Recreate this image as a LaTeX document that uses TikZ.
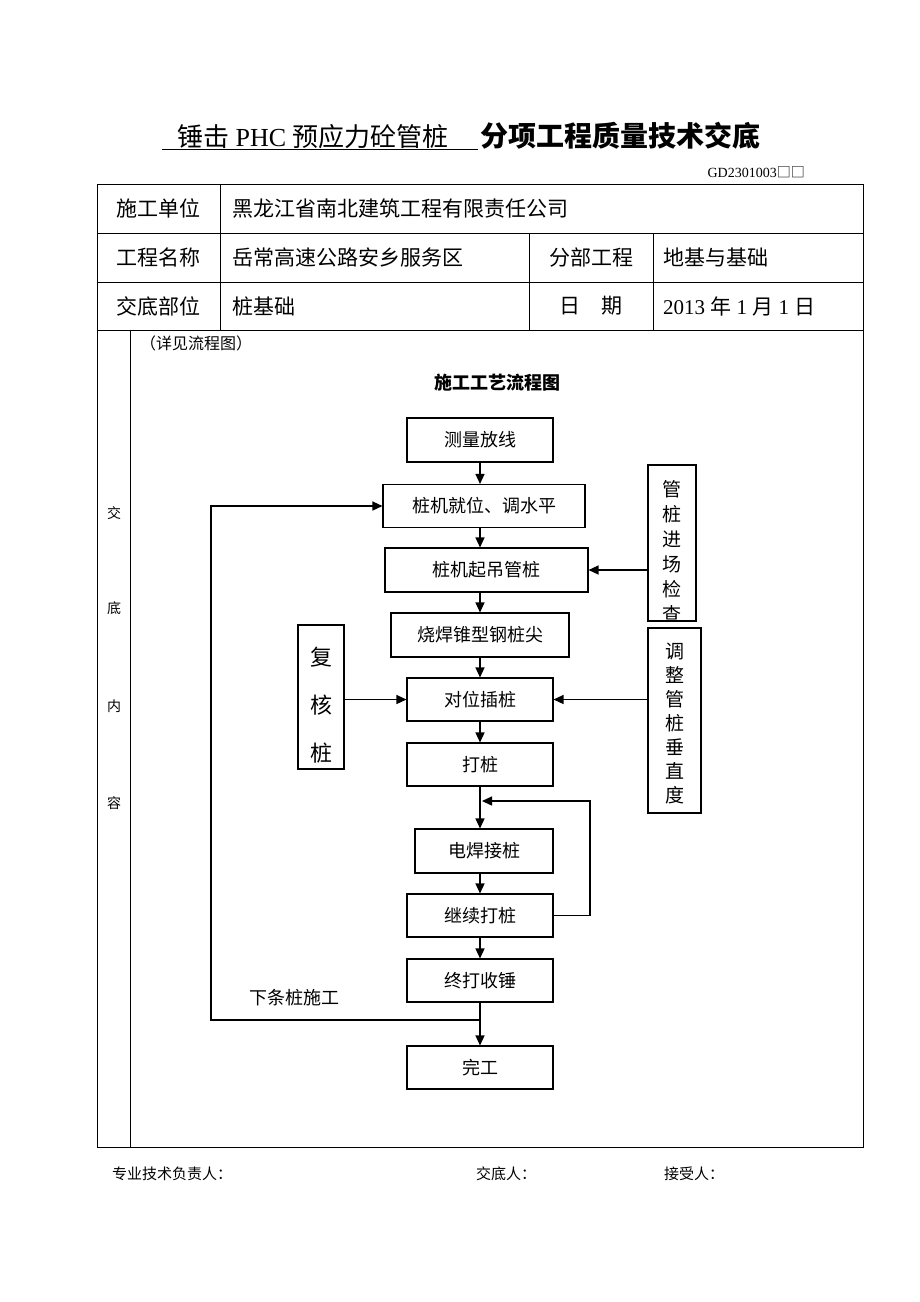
\documentclass[tikz,border=0pt]{standalone}
\usepackage{fontspec}
\setmainfont{Liberation Serif}
\newfontfamily\cjk{Noto Sans CJK SC}
\usetikzlibrary{arrows.meta}
\newcommand\setfs[1]{\fontsize{#1}{#1}\selectfont}
\begin{document}
\begin{tikzpicture}[x=1pt,y=-1pt,
  box/.style={draw,line width=1.1pt,minimum width=146pt,minimum height=44pt,inner sep=0pt,font=\cjk\setfs{18}},
  sidebox/.style={draw,line width=1.1pt,inner sep=0pt},
  vchar/.style={inner sep=0pt,font=\cjk\setfs{19}},
  arr/.style={-{Triangle[length=10pt,width=9pt]},line width=1.4pt},
  tl/.style={line width=1pt},
  cell/.style={inner sep=0pt,font=\cjk\setfs{21}},
  small/.style={inner sep=0pt,font=\cjk\setfs{15}}]
\fill[white] (0,0) rectangle (920,1302);
\useasboundingbox (0,0) rectangle (920,1302);

% title
\node[inner sep=0pt,anchor=west,font=\setfs{26}] (t1) at (177,137) {{\cjk 锤击} PHC {\cjk 预应力砼管桩}};
\coordinate (u1) at (162,149);
\coordinate (u2) at (478,149);
\draw[line width=1pt] (u1) -- (u2);
\node[anchor=west,inner sep=0pt,font=\cjk\bfseries\setfs{28}] (t2) at (480,136) {分项工程质量技术交底};
\node[anchor=east,inner sep=0pt,font=\setfs{14}] (gd) at (805,172) {GD2301003{\cjk □□}};

% table
\draw[tl] (97,184) rectangle (863,1147);
\draw[tl] (97,233) -- (863,233);
\draw[tl] (97,282) -- (863,282);
\draw[tl] (97,330) -- (863,330);
\draw[tl] (220,184) -- (220,330);
\draw[tl] (529,233) -- (529,330);
\draw[tl] (653,233) -- (653,330);
\draw[tl] (130,330) -- (130,1147);

\node[cell] (c11) at (158.5,208.5) {施工单位};
\node[cell,anchor=west] (c12) at (232,208.5) {黑龙江省南北建筑工程有限责任公司};
\node[cell] (c21) at (158.5,257.5) {工程名称};
\node[cell,anchor=west] (c22) at (232,257.5) {岳常高速公路安乡服务区};
\node[cell] (c23) at (591,257.5) {分部工程};
\node[cell,anchor=west] (c24) at (663,257.5) {地基与基础};
\node[cell] (c31) at (158.5,306) {交底部位};
\node[cell,anchor=west] (c32) at (232,306) {桩基础};
\node[cell] (c33) at (591,306) {日\hspace{21pt}期};
\node[cell,anchor=west] (c34) at (663,306) {\rmfamily 2013 {\cjk 年} 1 {\cjk 月} 1 {\cjk 日}};

\node[small,anchor=west,font=\cjk\setfs{16}] (see) at (140,343) {（详见流程图）};
\node[small,font=\cjk\setfs{14}] (v1) at (114,513) {交};
\node[small,font=\cjk\setfs{14}] (v2) at (114,608) {底};
\node[small,font=\cjk\setfs{14}] (v3) at (114,706) {内};
\node[small,font=\cjk\setfs{14}] (v4) at (114,803) {容};

\node[inner sep=0pt,font=\cjk\bfseries\setfs{18}] (ft) at (497,383) {施工工艺流程图};

% main boxes
\node[box] (m1) at (480,440) {测量放线};
\node[box,minimum width=202pt,minimum height=43pt] (m2) at (484,506) {桩机就位、调水平};
\node[box,minimum width=203pt] (m3) at (486.5,570) {桩机起吊管桩};
\node[box,minimum width=178pt] (m4) at (480,635) {烧焊锥型钢桩尖};
\node[box,minimum height=43pt] (m5) at (480,699.5) {对位插桩};
\node[box,minimum height=43pt] (m6) at (480,764.5) {打桩};
\node[box,minimum width=138pt] (m7) at (484,851) {电焊接桩};
\node[box,minimum height=43pt] (m8) at (480,915.5) {继续打桩};
\node[box,minimum height=43pt] (m9) at (480,980.5) {终打收锤};
\node[box,minimum height=43pt] (m10) at (480,1067.5) {完工};

% side boxes
\node[sidebox,minimum width=48pt,minimum height=156pt] (gz) at (672,543) {};
\begin{scope}
\clip (gz.south west) rectangle (gz.north east);
\foreach \c [count=\i] in {管,桩,进,场,检,查}
  \node[vchar] at (672,{489+25*(\i-1)}) {\c};
\end{scope}
\node[sidebox,minimum width=53pt,minimum height=185pt] (tz) at (674.5,720.5) {};
\foreach \c [count=\i] in {调,整,管,桩,垂,直,度}
  \node[vchar] at (674.5,{651+24*(\i-1)}) {\c};
\node[sidebox,minimum width=46pt,minimum height=144pt] (fh) at (321,697) {};
\foreach \c [count=\i] in {复,核,桩}
  \node[vchar,font=\cjk\setfs{22}] at (321,{657+48*(\i-1)}) {\c};

% main arrows
\draw[arr] (m1.south) -- (m1.south |- m2.north);
\draw[arr] (m1.south |- m2.south) -- (m1.south |- m3.north);
\draw[arr] (m1.south |- m3.south) -- (m4.north);
\draw[arr] (m4.south) -- (m5.north);
\draw[arr] (m5.south) -- (m6.north);
\draw[arr] (m6.south) -- (m6.south |- m7.north);
\draw[arr] (m6.south |- m7.south) -- (m8.north);
\draw[arr] (m8.south) -- (m9.north);
\draw[arr] (m9.south) -- (m10.north);

% side arrows
\draw[arr] (gz.west |- m3.east) -- (m3.east);
\draw[arr] (tz.west |- m5.east) -- (m5.east);
\draw[arr] (fh.east |- m5.west) -- (m5.west);

% loops
\coordinate (r1) at (590,801);
\coordinate (r2) at (482,801);
\draw[arr] (m8.east) -| (r1) -- (r2);
\coordinate (l1) at (480,1020);
\coordinate (l2) at (211,1020);
\draw[arr] (l1) -- (l2) |- (m2.west);
\node[inner sep=0pt,font=\cjk\setfs{18}] (lbl) at (294,998) {下条桩施工};

% footer
\node[small,anchor=west] (f1) at (112,1174) {专业技术负责人：};
\node[small,anchor=west] (f2) at (476,1174) {交底人：};
\node[small,anchor=west] (f3) at (664,1174) {接受人：};
\end{tikzpicture}
\end{document}
